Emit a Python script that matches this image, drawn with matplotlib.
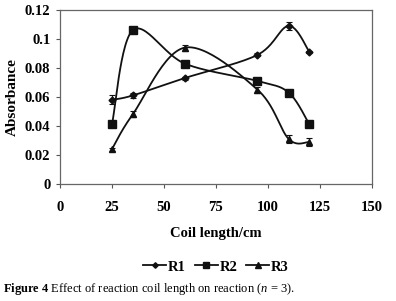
import numpy as np
import matplotlib.pyplot as plt
from matplotlib.lines import Line2D

# values
coil = [25, 35, 60, 95, 110, 120]
r1 = [0.058, 0.061, 0.073, 0.089, 0.109, 0.091]
r2 = [0.041, 0.106, 0.083, 0.071, 0.063, 0.041]
r3 = [0.024, 0.048, 0.094, 0.065, 0.031, 0.029]
r1_err = [0.003, 0.002, 0.001, 0.001, 0.003, 0.001]
r2_err = [0.001, 0.001, 0.001, 0.002, 0.001, 0.002]
r3_err = [0.001, 0.002, 0.002, 0.002, 0.003, 0.003]
names = ['R1', 'R2', 'R3']
markers = ['D', 's', '^']
msizes = [3.5, 6, 5]


def smooth(xs, ys, n=30):
    # Excel-like smoothed line (Catmull-Rom through the points)
    p = np.column_stack([xs, ys]).astype(float)
    p = np.vstack([p[0], p, p[-1]])
    out = []
    for i in range(1, len(p) - 2):
        p0, p1, p2, p3 = p[i - 1], p[i], p[i + 1], p[i + 2]
        t = np.linspace(0, 1, n)[:, None]
        seg = 0.5 * ((2 * p1) + (-p0 + p2) * t + (2 * p0 - 5 * p1 + 4 * p2 - p3) * t ** 2
                     + (-p0 + 3 * p1 - 3 * p2 + p3) * t ** 3)
        out.append(seg)
    out = np.vstack(out)
    return out[:, 0], out[:, 1]


plt.rcParams['font.family'] = 'Liberation Serif'
plt.rcParams['mathtext.fontset'] = 'custom'
plt.rcParams['mathtext.rm'] = 'Liberation Serif'
plt.rcParams['mathtext.it'] = 'Liberation Serif:italic'
plt.rcParams['mathtext.bf'] = 'Liberation Serif:bold'

fig = plt.figure(figsize=(3.96, 3.01), dpi=100)
ax = fig.add_axes([0.1515, 0.389, 0.7875, 0.578])

for ys, err, m, ms in zip([r1, r2, r3], [r1_err, r2_err, r3_err], markers, msizes):
    sx, sy = smooth(coil, ys)
    ax.plot(sx, sy, color='#111111', lw=1.3, zorder=2)
    ax.errorbar(coil, ys, yerr=err, fmt=m, color='#111111', ms=ms, capsize=2.5,
                elinewidth=0.8, capthick=0.8, zorder=3)

ax.set_xlim(0, 150)
ax.set_ylim(0, 0.12)
ax.set_xticks([0, 25, 50, 75, 100, 125, 150])
ax.set_yticks([0, 0.02, 0.04, 0.06, 0.08, 0.1, 0.12])
ax.set_yticklabels(['0', '0.02', '0.04', '0.06', '0.08', '0.1', '0.12'])
ax.tick_params(direction='out', length=3, width=0.8, color='#555555', labelsize=10.5, pad=9)
ax.tick_params(axis='y', pad=4)
for lab in ax.get_xticklabels() + ax.get_yticklabels():
    lab.set_fontweight('bold')
for s in ax.spines.values():
    s.set_color('#666666')
    s.set_linewidth(0.9)

ax.set_xlabel('Coil length/cm', fontsize=10.5, fontweight='bold', labelpad=10)
ax.set_ylabel('Absorbance', fontsize=11, fontweight='bold', labelpad=4)

handles = [Line2D([], [], color='#111111', lw=1.3, marker=m, ms=ms * 0.8)
           for m, ms in zip(markers, msizes)]
fig.legend(handles, names, loc='center', bbox_to_anchor=(0.545, 0.113), ncol=3,
           frameon=False, prop={'weight': 'bold', 'size': 10.5},
           handlelength=1.6, handletextpad=0.1, columnspacing=0.6)

fig.text(0.008, 0.04, r'$\mathbf{Figure\ 4}$ Effect of reaction coil length on reaction ($n$ = 3).',
         fontsize=9, ha='left', va='center')

fig.savefig('out.png', dpi=100)
